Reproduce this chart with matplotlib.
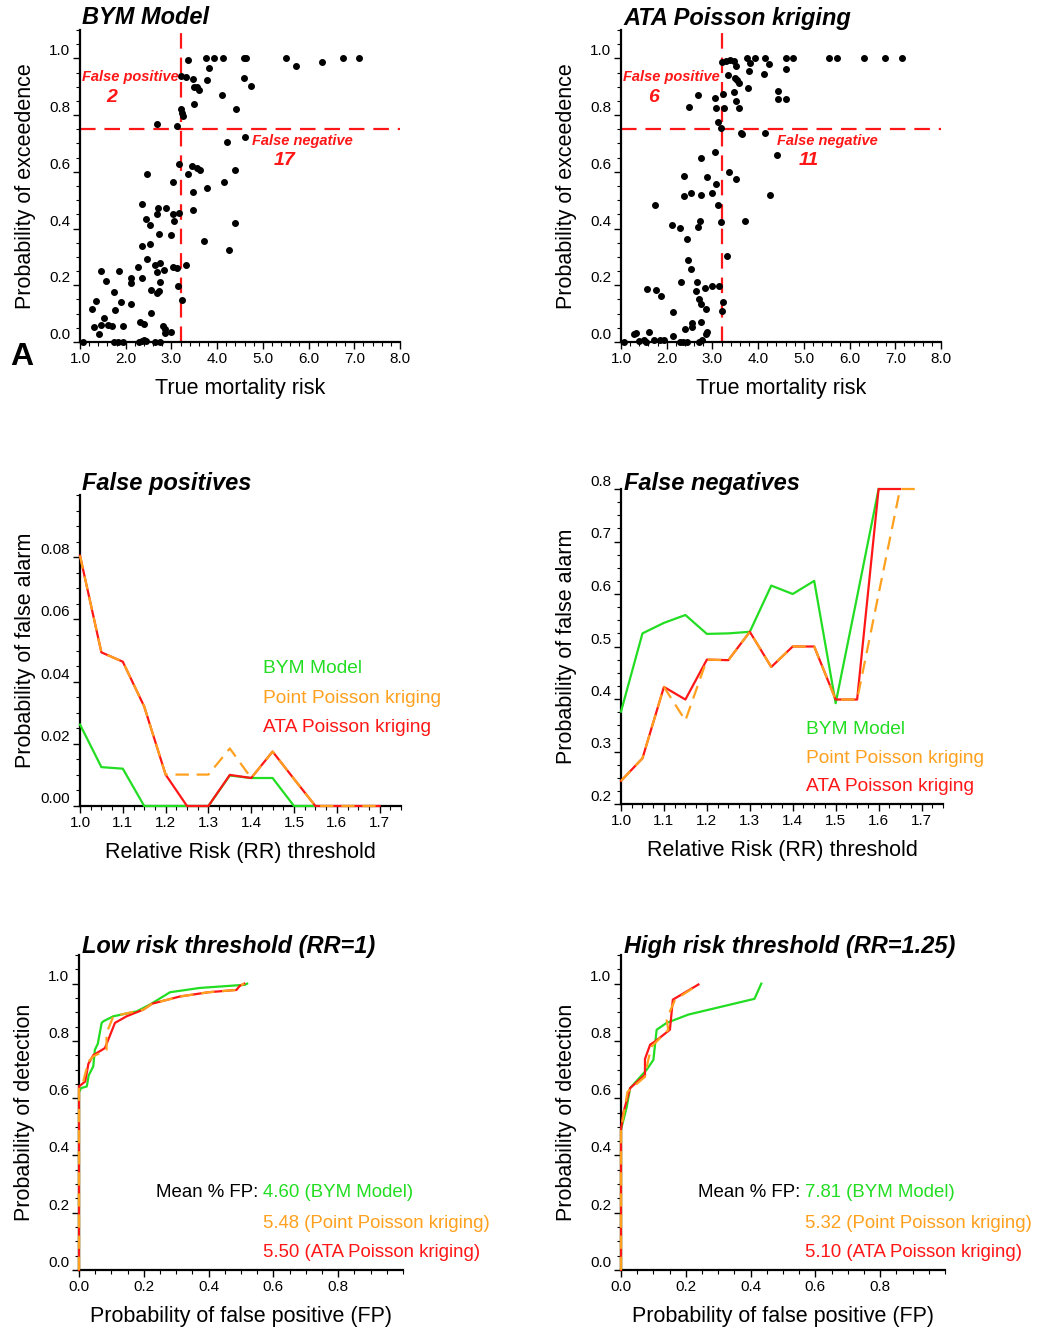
import numpy as np
import matplotlib
matplotlib.use('Agg')
import matplotlib.pyplot as plt
from matplotlib.ticker import MultipleLocator, FixedLocator, FormatStrFormatter

plt.rcParams['font.family'] = ['Liberation Sans', 'DejaVu Sans']

W, H = 1042, 1333
GREEN = '#22dd22'
ORANGE = '#ffa01e'
RED = '#ff1616'

# --- scatter data: true risk vs probability of exceedence ---
bym_risk = [3.37, 3.75, 3.94, 4.12, 4.58, 4.63, 5.51, 5.72, 6.30, 6.76, 7.11,
            3.83, 3.22, 3.31, 3.47, 3.77, 4.58, 4.75, 3.50, 3.57, 3.60, 4.10,
            3.50, 4.41, 3.20, 3.24, 3.25, 2.68, 3.12,
            4.61, 4.22, 3.17, 3.44, 3.55, 3.63, 4.39, 2.46, 3.36, 3.04, 4.14,
            3.77, 3.48, 2.35, 2.71, 2.88, 3.48, 2.68, 3.04, 3.17, 2.44, 2.53,
            3.06, 4.40, 2.73, 2.98, 3.71, 2.35, 2.53, 4.25, 2.47, 2.64, 2.74,
            2.83, 2.26, 3.04, 3.12, 3.31, 1.47, 1.85, 2.12, 2.12, 2.36, 2.68,
            2.75, 1.56, 2.55, 2.73, 2.68, 3.14, 1.75, 3.24, 1.36, 1.89, 1.26,
            2.11, 1.77, 2.55, 1.53, 2.31, 2.39, 1.31, 1.46, 1.62, 1.69, 1.93,
            2.81, 2.85, 2.87, 2.98, 1.42,
            1.06, 1.74, 1.84, 1.93, 2.28, 2.35, 2.40, 2.44, 2.64, 2.75]
bym_prob = [0.994, 1.0, 1.0, 1.0, 1.0, 1.0, 1.0, 0.974, 0.988, 1.0, 1.0,
            0.965, 0.938, 0.935, 0.926, 0.924, 0.932, 0.902, 0.898, 0.898, 0.89, 0.871,
            0.838, 0.821, 0.82, 0.808, 0.796, 0.767, 0.761,
            0.724, 0.704, 0.629, 0.621, 0.612, 0.608, 0.608, 0.594, 0.592, 0.565, 0.565,
            0.544, 0.529, 0.488, 0.471, 0.471, 0.465, 0.453, 0.453, 0.456, 0.433, 0.412,
            0.427, 0.418, 0.382, 0.376, 0.356, 0.338, 0.344, 0.324, 0.291, 0.271, 0.279,
            0.255, 0.265, 0.265, 0.262, 0.271, 0.249, 0.249, 0.226, 0.208, 0.224, 0.247,
            0.212, 0.214, 0.185, 0.18, 0.173, 0.198, 0.176, 0.147, 0.144, 0.141, 0.118,
            0.135, 0.112, 0.104, 0.086, 0.071, 0.062, 0.053, 0.059, 0.059, 0.055, 0.055,
            0.055, 0.047, 0.032, 0.035, 0.027,
            0.0, 0.0, 0.0, 0.0, 0.0, 0.004, 0.008, 0.004, 0.0, 0.0]

ata_risk = [3.21, 3.30, 3.39, 3.48, 3.52, 3.75, 3.83, 3.94, 4.15, 4.24, 4.62, 4.76,
            5.54, 5.73, 6.31, 6.78, 7.14, 3.79, 4.60, 3.34, 4.12, 3.50, 3.53, 3.59,
            3.47, 3.78, 4.43, 4.43, 4.62, 3.52, 3.58, 3.24, 3.06, 3.07, 3.26, 2.69,
            2.48, 3.13, 3.18,
            3.62, 3.64, 4.16, 4.41, 2.75, 3.06, 2.37, 2.88, 3.36, 3.52, 3.07, 2.37,
            2.53, 2.75, 2.99, 4.26, 1.75, 3.13, 2.12, 2.29, 2.69, 2.73, 3.18, 3.72,
            2.45, 3.32, 2.46, 2.54, 2.32, 2.67, 1.57, 1.77, 2.84, 2.99, 3.15, 2.64,
            1.87, 2.70, 2.75, 2.85, 3.24, 3.20, 2.14, 2.75, 2.56, 2.56, 2.39, 2.85,
            2.88, 1.28, 1.33, 1.62, 2.14,
            1.07, 1.40, 1.51, 1.55, 1.73, 1.85, 1.93, 2.29, 2.35, 2.44, 2.70, 2.77]
ata_prob = [0.988, 0.992, 0.994, 0.99, 0.973, 1.0, 0.982, 1.0, 1.0, 0.98, 1.0, 1.0,
            1.0, 1.0, 1.0, 1.0, 1.0, 0.955, 0.962, 0.941, 0.945, 0.932, 0.924, 0.912,
            0.882, 0.894, 0.886, 0.856, 0.856, 0.849, 0.824, 0.876, 0.859, 0.824, 0.824, 0.871,
            0.829, 0.776, 0.755,
            0.738, 0.735, 0.738, 0.659, 0.647, 0.671, 0.585, 0.582, 0.60, 0.574, 0.556, 0.514,
            0.526, 0.52, 0.524, 0.52, 0.482, 0.482, 0.412, 0.402, 0.404, 0.427, 0.424, 0.427,
            0.362, 0.304, 0.288, 0.259, 0.212, 0.212, 0.188, 0.182, 0.192, 0.198, 0.198, 0.179,
            0.161, 0.151, 0.133, 0.115, 0.141, 0.109, 0.106, 0.071, 0.067, 0.053, 0.047, 0.029,
            0.034, 0.027, 0.033, 0.035, 0.021,
            0.0, 0.004, 0.008, 0.0, 0.006, 0.008, 0.006, 0.0, 0.0, 0.0, 0.0, 0.006]

risk_threshold = 3.2
prob_threshold = 0.75

# --- false positive / false negative curves ---
rr = [1.0, 1.05, 1.1, 1.15, 1.2, 1.25, 1.3, 1.35, 1.4, 1.45, 1.5, 1.55, 1.6, 1.65, 1.7]
fp_bym = [0.0262, 0.0125, 0.012, 0.0, 0.0, 0.0, 0.0, 0.0098, 0.009, 0.009, 0.0, 0.0]
fp_point = [0.0805, 0.0494, 0.0464, 0.032, 0.0101, 0.0101, 0.0101, 0.0185, 0.009, 0.0175,
            0.0087, 0.0, 0.0, 0.0, 0.0]
fp_ata = [0.0805, 0.0494, 0.0464, 0.032, 0.0101, 0.0, 0.0, 0.0100, 0.009, 0.0175,
          0.0087, 0.0, 0.0, 0.0, 0.0]
fn_bym = [0.376, 0.525, 0.545, 0.560, 0.524, 0.525, 0.528, 0.616, 0.600, 0.625, 0.392,
          0.595, 0.8]
fn_point = [0.244, 0.287, 0.423, 0.359, 0.475, 0.474, 0.528, 0.461, 0.50, 0.50, 0.399,
            0.399, 0.6, 0.8, 0.8]
fn_ata = [0.244, 0.287, 0.423, 0.399, 0.475, 0.474, 0.528, 0.461, 0.50, 0.50, 0.399,
          0.399, 0.8, 0.8]

# --- detection vs false positive curves ---
low_bym_fp = [0, 0, 0.006, 0.024, 0.03, 0.044, 0.049, 0.058, 0.07, 0.076, 0.106, 0.178,
              0.219, 0.281, 0.373, 0.512, 0.519]
low_bym_det = [0, 0.62, 0.635, 0.641, 0.68, 0.711, 0.769, 0.79, 0.863, 0.869, 0.886, 0.903,
               0.927, 0.97, 0.985, 0.996, 1.0]
low_point_fp = [0, 0, 0.013, 0.029, 0.044, 0.085, 0.085, 0.106, 0.198, 0.226, 0.311, 0.40,
                0.486, 0.496, 0.51]
low_point_det = [0, 0.641, 0.658, 0.728, 0.746, 0.769, 0.827, 0.886, 0.909, 0.93, 0.955,
                 0.97, 0.978, 0.992, 1.0]
low_ata_fp = [0, 0, 0, 0.019, 0.029, 0.044, 0.08, 0.111, 0.147, 0.198, 0.226, 0.311, 0.40,
              0.486, 0.496, 0.51]
low_ata_det = [0, 0.606, 0.641, 0.658, 0.72, 0.75, 0.775, 0.863, 0.886, 0.909, 0.93, 0.955,
               0.97, 0.978, 0.992, 1.0]

high_bym_fp = [0, 0, 0.018, 0.028, 0.079, 0.10, 0.11, 0.141, 0.208, 0.412, 0.433]
high_bym_det = [0, 0.49, 0.571, 0.635, 0.699, 0.734, 0.839, 0.863, 0.892, 0.947, 1.0]
high_point_fp = [0, 0, 0.02, 0.074, 0.084, 0.095, 0.146, 0.141, 0.151, 0.167, 0.223, 0.235]
high_point_det = [0, 0.49, 0.622, 0.675, 0.734, 0.781, 0.839, 0.874, 0.903, 0.944, 0.985, 0.99]
high_ata_fp = [0, 0, 0.007, 0.028, 0.074, 0.074, 0.09, 0.105, 0.151, 0.160, 0.239]
high_ata_det = [0, 0.49, 0.548, 0.635, 0.682, 0.737, 0.787, 0.798, 0.839, 0.944, 0.997]

low_mean_fp = ['4.60', '5.48', '5.50']
high_mean_fp = ['7.81', '5.32', '5.10']
model_names = ['BYM Model', 'Point Poisson kriging', 'ATA Poisson kriging']

TICK_FS = 11
LABEL_FS = 15.5
LEGEND_FS = 13.8
MEAN_FS = 13.4
TITLE_FS = 17


def px_axes(fig, l, r, b, t):
    return fig.add_axes([l / W, 1 - b / H, (r - l) / W, (b - t) / H])


def style(ax, xlim, ylim, xmaj, xmin, ymaj, ymin, xfmt, yfmt, xlabel, ylabel):
    ax.set_xlim(*xlim)
    ax.set_ylim(*ylim)
    for s in ['top', 'right']:
        ax.spines[s].set_visible(False)
    for s in ['left', 'bottom']:
        ax.spines[s].set_linewidth(1.6)
    ax.xaxis.set_major_locator(MultipleLocator(xmaj) if np.isscalar(xmaj) else FixedLocator(xmaj))
    ax.xaxis.set_minor_locator(MultipleLocator(xmin))
    ax.yaxis.set_major_locator(MultipleLocator(ymaj) if np.isscalar(ymaj) else FixedLocator(ymaj))
    ax.yaxis.set_minor_locator(MultipleLocator(ymin))
    ax.xaxis.set_major_formatter(FormatStrFormatter(xfmt))
    ax.yaxis.set_major_formatter(FormatStrFormatter(yfmt))
    ax.tick_params(which='major', length=5, width=1.0, labelsize=TICK_FS, direction='out', pad=2)
    ax.tick_params(which='minor', length=3, width=0.8, direction='out')
    for lbl in ax.get_yticklabels():
        lbl.set_va('bottom')
    bb = ax.get_position()
    wpx, hpx = bb.width * W, bb.height * H
    ax.set_xlabel(xlabel, fontsize=LABEL_FS)
    ax.set_ylabel(ylabel, fontsize=LABEL_FS)
    ax.xaxis.set_label_coords(0.5, -36 / hpx)
    ax.yaxis.set_label_coords(-44 / wpx, 0.5)


def title(fig, x, y, s):
    fig.text(x / W, 1 - y / H, s, fontsize=TITLE_FS, fontweight='bold', fontstyle='italic',
             ha='left', va='center')


fig = plt.figure(figsize=(W / 100, H / 100), dpi=100)

# ---------- top row: scatter ----------
panels = [(80, 400, bym_risk, bym_prob, 'BYM Model', '2', '17', 1.70, 4.76, 5.48),
          (621, 941, ata_risk, ata_prob, 'ATA Poisson kriging', '6', '11', 1.72, 4.42, 5.10)]
for l, r, xs, ys, name, nfp, nfn, xfp, xfn_lab, xfn in panels:
    ax = px_axes(fig, l, r, 342, 30)
    style(ax, (1, 8), (0, 1.1), 1, 0.2, 0.2, 0.05, '%.1f', '%.1f',
          'True mortality risk', 'Probability of exceedence')
    ax.scatter(xs, ys, s=16, color='black', zorder=3, clip_on=False)
    ax.axvline(risk_threshold, color=RED, lw=1.6, dashes=(7, 4), zorder=2)
    ax.axhline(prob_threshold, color=RED, lw=1.6, dashes=(7, 4), zorder=2)
    ax.text(1.04, 0.933, 'False positive', color=RED, fontsize=10.5, fontweight='bold',
            fontstyle='italic', ha='left', va='center')
    ax.text(xfp, 0.863, nfp, color=RED, fontsize=14, fontweight='bold',
            fontstyle='italic', ha='center', va='center')
    ax.text(xfn_lab, 0.709, 'False negative', color=RED,
            fontsize=10.5, fontweight='bold', fontstyle='italic', ha='left', va='center')
    ax.text(xfn, 0.639, nfn, color=RED, fontsize=14, fontweight='bold',
            fontstyle='italic', ha='center', va='center')
    title(fig, l + 2, 18, name)

fig.text(22 / W, 1 - 357 / H, 'A', fontsize=23, fontweight='bold', ha='center', va='center')


def three_lines(ax, xb, yb, xp, yp, xa, ya):
    ax.plot(xb, yb, color=GREEN, lw=1.6, zorder=3, clip_on=False)
    ax.plot(xa, ya, color=RED, lw=1.6, zorder=4, clip_on=False)
    ax.plot(xp, yp, color=ORANGE, lw=1.6, dashes=(6, 3.5), zorder=5, clip_on=False)


def legend_text(ax, x, ys, labels, fs):
    for yy, lab, col in zip(ys, labels, [GREEN, ORANGE, RED]):
        ax.text(x, yy, lab, color=col, fontsize=fs, transform=ax.transAxes,
                ha='left', va='center')


# ---------- middle row ----------
ax = px_axes(fig, 80, 401, 806, 495)
style(ax, (1.0, 1.75), (0, 0.1), 0.1, 0.025, [0, 0.02, 0.04, 0.06, 0.08], 0.005,
      '%.1f', '%.2f', 'Relative Risk (RR) threshold', 'Probability of false alarm')
three_lines(ax, rr[:len(fp_bym)], fp_bym, rr, fp_point, rr, fp_ata)
legend_text(ax, 0.570, [0.441, 0.346, 0.252], model_names, LEGEND_FS)
title(fig, 82, 483, 'False positives')

ax = px_axes(fig, 621, 943, 804, 489)
style(ax, (1.0, 1.75), (0.2, 0.8), 0.1, 0.025, 0.1, 0.025, '%.1f', '%.1f',
      'Relative Risk (RR) threshold', 'Probability of false alarm')
three_lines(ax, rr[:len(fn_bym)], fn_bym, rr, fn_point, rr[:len(fn_ata)], fn_ata)
legend_text(ax, 0.574, [0.238, 0.143, 0.054], model_names, LEGEND_FS)
title(fig, 624, 483, 'False negatives')

# ---------- bottom row ----------
rows = [(79, 403, 'Low risk threshold (RR=1)', low_mean_fp,
         (low_bym_fp, low_bym_det, low_point_fp, low_point_det, low_ata_fp, low_ata_det)),
        (621, 945, 'High risk threshold (RR=1.25)', high_mean_fp,
         (high_bym_fp, high_bym_det, high_point_fp, high_point_det, high_ata_fp, high_ata_det))]
for l, r, name, means, curves in rows:
    ax = px_axes(fig, l, r, 1270, 955)
    style(ax, (0, 1.0), (0, 1.1), [0, 0.2, 0.4, 0.6, 0.8], 0.05, 0.2, 0.05, '%.1f', '%.1f',
          'Probability of false positive (FP)', 'Probability of detection')
    three_lines(ax, *curves)
    labels = ['%s (%s)' % (m, n) for m, n in zip(means, model_names)]
    legend_text(ax, 0.568, [0.245, 0.149, 0.054], labels, MEAN_FS)
    ax.text(0.554, 0.245, 'Mean % FP:', color='black', fontsize=MEAN_FS,
            transform=ax.transAxes, ha='right', va='center')
    title(fig, l + 3, 946, name)

fig.savefig('out.png', dpi=100)
